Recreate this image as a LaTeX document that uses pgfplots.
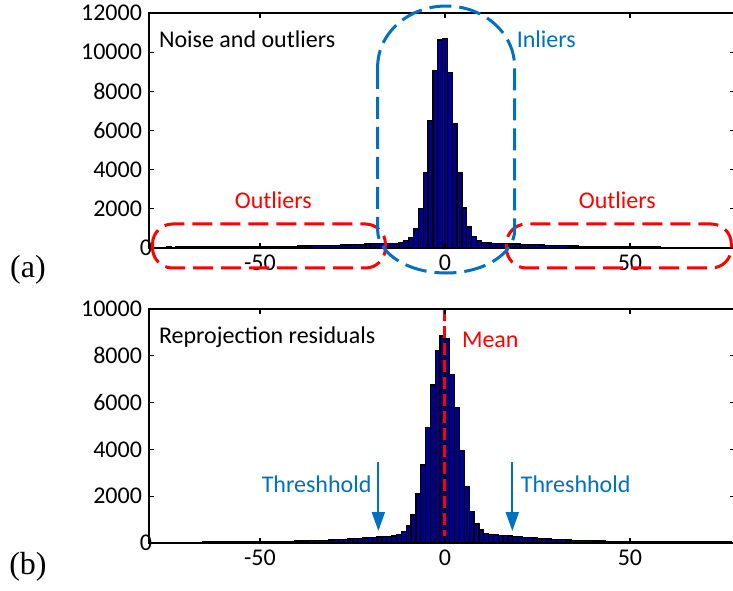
\documentclass[border=0pt]{standalone}
\usepackage{fontspec}
\setmainfont{Carlito}
\newfontfamily\timesfont{Liberation Serif}
\usepackage{pgfplots}
\usepackage{pgfplotstable}
\pgfplotsset{compat=1.18}
\usetikzlibrary{arrows.meta}

\definecolor{barnavy}{RGB}{0,0,140}
\definecolor{annblue}{RGB}{0,112,192}
\definecolor{annred}{RGB}{255,0,0}

% bin centre x, counts (a) noise and outliers, (b) reprojection residuals
% (b) bins sit half a bin to the right of x
\pgfplotstableread{
x a b
-79.91 35 25
-78.60 40 25
-77.29 35 25
-75.98 40 30
-74.67 45 30
-73.36 40 35
-72.05 45 30
-70.74 45 35
-69.43 50 35
-68.12 45 35
-66.81 50 35
-65.50 50 40
-64.19 55 40
-62.88 50 40
-61.57 55 45
-60.26 55 45
-58.95 60 45
-57.64 60 45
-56.33 60 50
-55.02 60 50
-53.71 65 50
-52.40 65 55
-51.09 70 55
-49.78 70 55
-48.47 75 55
-47.16 75 60
-45.85 80 60
-44.54 80 65
-43.23 85 70
-41.92 85 75
-40.61 90 80
-39.30 95 85
-37.99 100 90
-36.68 105 95
-35.37 110 100
-34.06 115 105
-32.75 120 115
-31.44 130 125
-30.13 135 135
-28.82 145 145
-27.51 150 155
-26.20 160 165
-24.89 170 180
-23.58 180 195
-22.27 190 210
-20.96 200 225
-19.65 205 240
-18.34 215 255
-17.03 220 270
-15.72 225 285
-14.41 230 300
-13.10 238 370
-11.79 289 484
-10.48 357 726
-9.17 545 1197
-7.86 970 2094
-6.55 2008 3333
-5.24 3865 4943
-3.93 6500 6752
-2.62 9055 8219
-1.31 10620 8846
0.00 10710 8746
1.31 8953 7208
2.62 6333 5783
3.93 3865 3946
5.24 2043 2407
6.55 1072 1339
7.86 596 840
9.17 375 555
10.48 289 413
11.79 255 370
13.10 238 342
14.41 220 330
15.72 215 310
17.03 210 295
18.34 205 280
19.65 200 265
20.96 195 250
22.27 185 235
23.58 175 220
24.89 165 205
26.20 155 190
27.51 145 175
28.82 135 160
30.13 125 145
31.44 120 135
32.75 110 125
34.06 100 115
35.37 95 105
36.68 90 100
37.99 85 95
39.30 80 90
40.61 75 85
41.92 70 80
43.23 65 75
44.54 65 70
45.85 60 70
47.16 60 65
48.47 55 65
49.78 55 60
51.09 50 60
52.40 50 55
53.71 50 55
55.02 45 55
56.33 45 55
57.64 45 55
58.95 40 55
60.26 40 55
61.57 40 50
62.88 40 50
64.19 40 50
65.50 35 55
66.81 35 60
68.12 35 60
69.43 35 55
70.74 30 50
72.05 35 45
73.36 30 45
74.67 30 40
75.98 30 40
77.29 30 35
}\hist

\pgfplotsset{
  histax/.style={
    scale only axis,
    width=293pt,
    xmin=-80, xmax=78.4, ymin=0,
    axis line style={line width=1pt},
    tick align=inside,
    major tick length=2.5pt,
    tick style={line width=0.6pt, black},
    xticklabel pos=lower, yticklabel pos=left,
    xtick={-50,0,50}, xticklabels={-50,0,50},
    scaled y ticks=false, scaled x ticks=false,
    ticklabel style={font=\fontsize{12}{14}\selectfont},
    axis on top,
  },
  histbar/.style={ybar, bar width=1.31, fill=barnavy, draw=black, line width=0.65pt},
}

\begin{document}
\begin{tikzpicture}[font=\fontsize{12}{14}\selectfont]
\path[use as bounding box] (-74.5pt,-23.5pt) rectangle (292pt,271.5pt);

% (a)
\begin{axis}[histax, at={(0,147.5pt)}, height=117.5pt, ymax=12000,
  ytick={0,2000,...,12000},
  yticklabels={0\kern-5pt,2000,4000,6000,8000,10000,12000}]
  \addplot[histbar, bar shift=0pt] table[x=x, y=a] {\hist};
  \node[anchor=west, inner sep=0pt] at (axis cs:-77.4,10674) {Noise and outliers};
  \node[anchor=west, inner sep=0pt, annblue] at (axis cs:19.3,10674) {Inliers};
  \node[annred] at (axis cs:-46.4,2451) {Outliers};
  \node[annred] at (axis cs:46.6,2451) {Outliers};
  \coordinate (inA) at (axis cs:-18.2,9244);
  \coordinate (inB) at (axis cs:-18.2,919);
  \coordinate (oLa) at (axis cs:-79.05,1226);
  \coordinate (oLb) at (axis cs:-16.1,-1021);
  \coordinate (oRa) at (axis cs:16.6,1226);
  \coordinate (oRb) at (axis cs:77.4,-1021);
\end{axis}
\draw[annred, line width=1.5pt, dash pattern=on 10pt off 4pt, rounded corners=10pt] (oLa) rectangle (oLb);
\draw[annred, line width=1.5pt, dash pattern=on 10pt off 4pt, rounded corners=10pt] (oRa) rectangle (oRb);
\draw[annblue, line width=1.5pt, dash pattern=on 11pt off 4pt]
  (inA) -- (inB)
  arc[start angle=180, end angle=360, x radius=34.25pt, y radius=21.5pt]
  -- ++(0pt,81.5pt)
  arc[start angle=0, end angle=180, x radius=34.25pt, y radius=30.5pt] -- cycle;
\node[font=\timesfont\fontsize{16}{18}\selectfont] at (-60.5pt,136.5pt) {(a)};

% (b)
\begin{axis}[histax, at={(0,0)}, height=117pt, ymax=10000,
  ytick={0,2000,...,10000},
  yticklabels={0\kern-5pt,2000,4000,6000,8000,10000}]
  \addplot[histbar, bar shift=1.21pt] table[x=x, y=b] {\hist};
  \draw[annred, line width=1.5pt, dash pattern=on 6pt off 2.5pt] (axis cs:0,10000) -- (axis cs:0,300);
  \draw[annblue, line width=1pt, -{Triangle[width=6.5pt,length=9.5pt]}] (axis cs:-18,3462) -- (axis cs:-18,513);
  \draw[annblue, line width=1pt, -{Triangle[width=6.5pt,length=9.5pt]}] (axis cs:18.2,3462) -- (axis cs:18.2,513);
  \node[annblue] at (axis cs:-34.7,2521) {Threshhold};
  \node[anchor=west, inner sep=0pt, annblue] at (axis cs:20.4,2521) {Threshhold};
  \node[anchor=west, inner sep=0pt] at (axis cs:-77.4,8803) {Reprojection residuals};
  \node[anchor=west, inner sep=0pt, annred] at (axis cs:4.5,8675) {Mean};
\end{axis}
\node[font=\timesfont\fontsize{16}{18}\selectfont] at (-60.5pt,-12pt) {(b)};
\end{tikzpicture}
\end{document}
